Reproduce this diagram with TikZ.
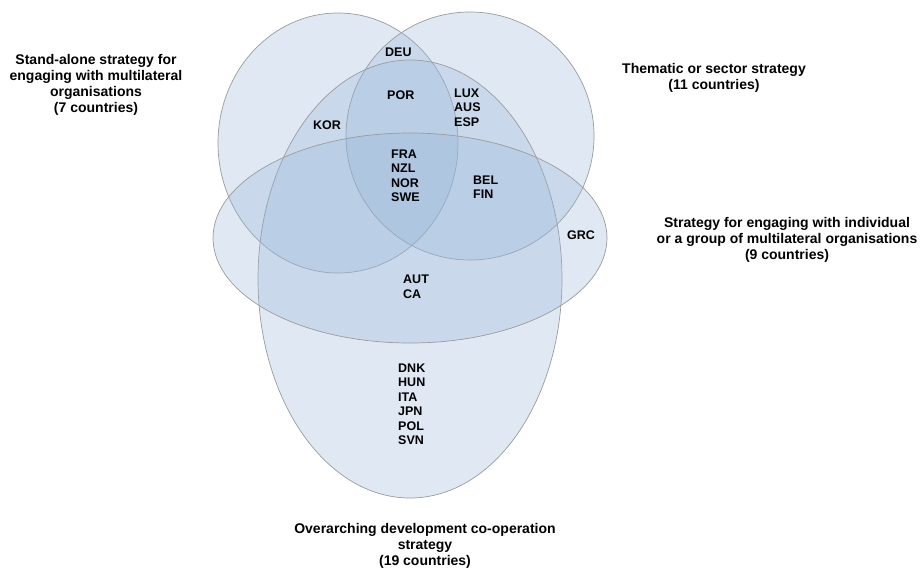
\documentclass[tikz,border=0pt]{standalone}
\usepackage{fontspec}
\setmainfont{Liberation Sans}
\definecolor{setfill}{RGB}{150,180,215}
\definecolor{setline}{RGB}{155,155,155}
\begin{document}
\begin{tikzpicture}[x=1pt,y=-1pt,
  setshape/.style={draw=setline, line width=0.7pt, fill=setfill, fill opacity=0.3, draw opacity=1},
  cty/.style={font=\fontsize{12.5}{14.5}\selectfont\bfseries, align=left, anchor=west, inner sep=0pt},
  ttl/.style={font=\fontsize{14}{16}\selectfont\bfseries, align=center, inner sep=0pt}]
\useasboundingbox (0,0) rectangle (920,570);
% sets
\draw[setshape] (338,143) ellipse [x radius=120, y radius=130];
\draw[setshape] (470,136) ellipse [x radius=124, y radius=124];
\draw[setshape] (410,279) ellipse [x radius=152, y radius=219];
\draw[setshape] (410,238) ellipse [x radius=197, y radius=105];
% set titles
\node[ttl] (tstand) at (96,85) {Stand-alone strategy for\\engaging with multilateral\\organisations\\(7 countries)};
\node[ttl] (tthem) at (714,78) {Thematic or sector strategy\\(11 countries)};
\node[ttl] (tindiv) at (787,240) {Strategy for engaging with individual\\or a group of multilateral organisations\\(9 countries)};
\node[ttl] (tover) at (425,546) {Overarching development co-operation\\strategy\\(19 countries)};
% countries
\node[cty] (deu) at (385,52) {DEU};
\node[cty] (por) at (387,95) {POR};
\node[cty] (lux) at (454,107.5) {LUX\\AUS\\ESP};
\node[cty] (kor) at (313,125) {KOR};
\node[cty] (fra) at (391,176) {FRA\\NZL\\NOR\\SWE};
\node[cty] (bel) at (473,187) {BEL\\FIN};
\node[cty] (grc) at (567,235) {GRC};
\node[cty] (aut) at (403,287) {AUT\\CA};
\node[cty] (dnk) at (398,404.5) {DNK\\HUN\\ITA\\JPN\\POL\\SVN};
\end{tikzpicture}
\end{document}
